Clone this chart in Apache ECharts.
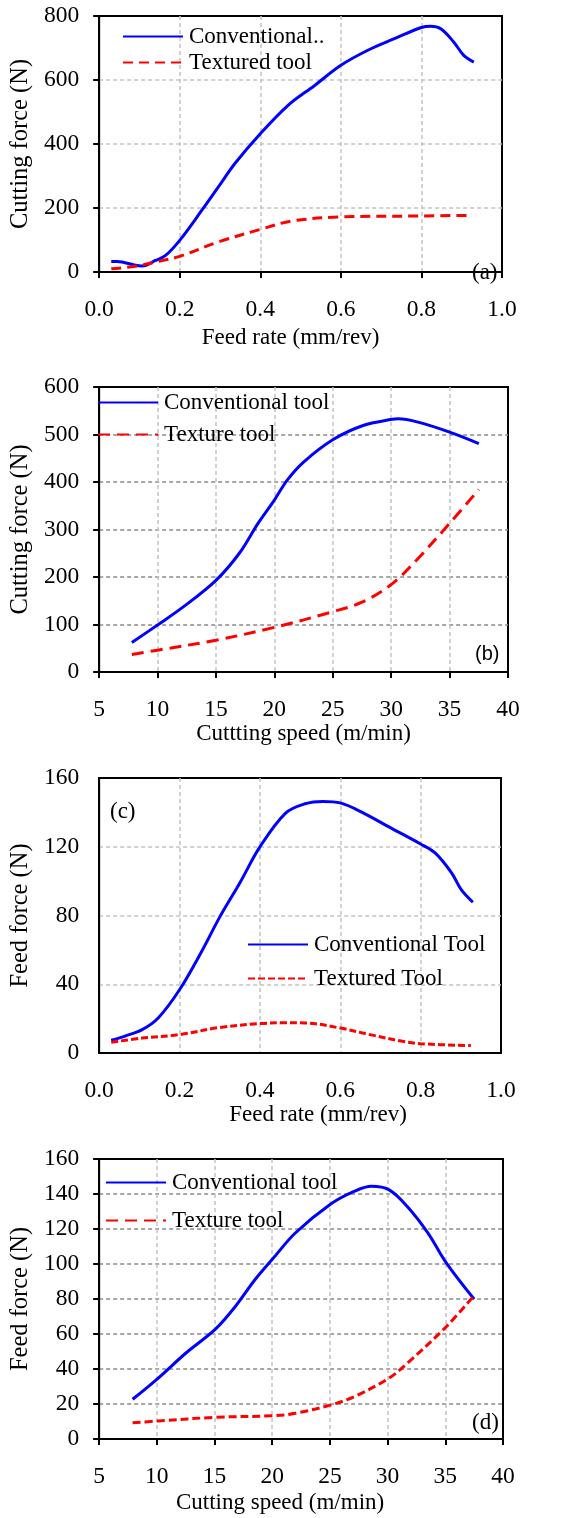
<!DOCTYPE html>
<html>
<head>
<meta charset="utf-8">
<title>Cutting and feed forces</title>
<script src="https://cdn.jsdelivr.net/npm/echarts@6/dist/echarts.min.js"></script>
<style>
  html, body { margin: 0; padding: 0; background: #fff; }
  #chart_show { width: 570px; height: 1518px; }
</style>
</head>
<body>
<div id="chart_show"></div>
<script>
// (a) cutting force vs feed rate
const feedConvA = [0.03, 0.045, 0.09, 0.107, 0.14, 0.165, 0.2, 0.255, 0.296, 0.337, 0.4, 0.469, 0.535, 0.6, 0.667, 0.733, 0.8, 0.823, 0.848, 0.88, 0.905, 0.93]
const forceConvA = [33, 33, 21, 19, 36, 52, 99, 193, 266, 339, 432, 521, 583, 646, 693, 729, 764, 768, 760, 719, 677, 656]
const feedTexA = [0.03, 0.09, 0.14, 0.2, 0.296, 0.4, 0.477, 0.6, 0.8, 0.92]
const forceTexA = [10, 18, 31, 49, 94, 133, 159, 172, 175, 177]

// (b) cutting force vs cutting speed
const speedConvB = [7.8, 10, 12.2, 15, 17, 18.6, 20, 21.1, 22.5, 25, 27.6, 30.1, 30.6, 32.3, 35, 37.5]
const forceConvB = [62, 99, 137, 193, 250, 313, 362, 404, 442, 489, 519, 532, 533, 526, 505, 481]
const speedTexB = [7.8, 10, 15, 20, 25, 27.6, 30.1, 32.3, 35, 37.5]
const forceTexB = [37, 46, 67, 94, 127, 148, 186, 239, 313, 384]

// (c) feed force vs feed rate
const feedConvC = [0.03, 0.066, 0.107, 0.147, 0.2, 0.253, 0.301, 0.35, 0.4, 0.464, 0.512, 0.557, 0.6, 0.658, 0.715, 0.8, 0.836, 0.877, 0.901, 0.93]
const forceConvC = [7.4, 10, 13.6, 20.4, 36.8, 58.2, 79.5, 98.9, 119.9, 139.6, 145, 146.4, 145.5, 139.6, 132.3, 121.6, 116.4, 104.8, 95, 87.7]
const feedTexC = [0.03, 0.107, 0.2, 0.301, 0.4, 0.464, 0.512, 0.6, 0.674, 0.755, 0.8, 0.925]
const forceTexC = [6.2, 8.7, 10.7, 14.9, 17.1, 17.6, 17.5, 14.5, 10.7, 6.8, 5.4, 4.3]

// (d) feed force vs cutting speed
const speedConvD = [7.9, 10.1, 12.5, 15.1, 16.8, 18.5, 20.1, 22, 25.1, 27.1, 28.6, 30.1, 31.7, 33.5, 35.1, 37.5]
const forceConvD = [22.7, 34.7, 49, 62.9, 75.7, 91, 103.4, 117.7, 134.4, 141.5, 144.4, 142.5, 132.9, 117.7, 100.5, 79.9]
const speedTexD = [7.9, 10.1, 15.1, 20.1, 22, 25.1, 27.1, 30.1, 31.7, 35.1, 37.5]
const forceTexD = [9.3, 10.3, 12.4, 13.3, 14.7, 19.5, 24.2, 34.7, 43.3, 64.3, 82]

// legend names / labels
const legendA = ['Conventional..', 'Textured tool']
const legendB = ['Conventional tool', 'Texture tool']
const legendC = ['Conventional Tool', 'Textured Tool']
const legendD = ['Conventional tool', 'Texture tool']
const panelTags = ['(a)', '(b)', '(c)', '(d)']

const serif = 'Liberation Serif, Times New Roman, serif'
const lightGrid = '#c3c3c3'
const darkGrid = '#8a8a8a'

function zip (xs, ys) {
  return xs.map((x, i) => [x, ys[i]])
}

// x axis for one panel
function makeX (idx, min, max, step, title, gap, pad, ticks, fixed) {
  return {
    type: 'value',
    gridIndex: idx,
    min: min,
    max: max,
    interval: step,
    name: title,
    nameLocation: 'middle',
    nameGap: gap,
    nameTextStyle: { fontFamily: serif, fontSize: 23, color: '#000', padding: pad },
    axisLine: { show: true, onZero: false, lineStyle: { color: '#000', width: 2 } },
    axisTick: { show: ticks, inside: false, length: 6, lineStyle: { color: '#000', width: 2 } },
    axisLabel: {
      fontFamily: serif,
      fontSize: 23.5,
      color: '#000',
      margin: 26,
      formatter: v => fixed ? v.toFixed(1) : String(v)
    },
    splitLine: { show: true, showMinLine: false, showMaxLine: false, lineStyle: { color: lightGrid, width: 1.5, type: [4, 3] } }
  }
}

// y axis for one panel
function makeY (idx, max, step, title, gap, ticks, gridColor) {
  return {
    type: 'value',
    gridIndex: idx,
    min: 0,
    max: max,
    interval: step,
    name: title,
    nameLocation: 'middle',
    nameGap: gap,
    nameTextStyle: { fontFamily: serif, fontSize: 24.5, color: '#000' },
    axisLine: { show: true, onZero: false, lineStyle: { color: '#000', width: 2 } },
    axisTick: { show: ticks, inside: false, length: 6, lineStyle: { color: '#000', width: 2 } },
    axisLabel: { fontFamily: serif, fontSize: 23.5, color: '#000', margin: 20 },
    splitLine: { show: true, showMinLine: false, showMaxLine: false, lineStyle: { color: gridColor, width: 1.5, type: [4, 3] } }
  }
}

function makeLine (idx, name, data, dashed, dash) {
  return {
    name: name,
    type: 'line',
    xAxisIndex: idx,
    yAxisIndex: idx,
    data: data,
    smooth: 0.35,
    symbol: 'none',
    lineStyle: {
      color: dashed ? '#ff0000' : '#0000ff',
      width: 3,
      type: dashed ? dash : 'solid'
    },
    itemStyle: { color: dashed ? '#ff0000' : '#0000ff' }
  }
}

function makeLegend (names, left, top, gap) {
  return {
    data: names,
    orient: 'vertical',
    left: left,
    top: top,
    itemGap: gap,
    itemWidth: 60,
    itemHeight: 14,
    padding: 0,
    selectedMode: false,
    // only the line in the key, no marker dot
    itemStyle: { color: 'rgba(0,0,0,0)', borderWidth: 0, opacity: 0 },
    textStyle: { fontFamily: serif, fontSize: 23, color: '#000', padding: [0, 0, 0, 1] }
  }
}

function makeTag (text, left, top, font, size) {
  return {
    text: text,
    left: left,
    top: top,
    padding: 0,
    textStyle: { fontFamily: font, fontSize: size, fontWeight: 'normal', color: '#000' }
  }
}

const myChart = echarts.init(document.getElementById('chart_show'), null, { renderer: 'canvas' })

const gridBox = (left, top, width, height) => ({
  left: left,
  top: top,
  width: width,
  height: height,
  show: true,
  borderColor: '#000',
  borderWidth: 2,
  backgroundColor: 'transparent'
})

const option = {
  backgroundColor: '#fff',
  animation: false,
  title: [
    makeTag(panelTags[0], 472, 261, serif, 23),
    makeTag(panelTags[1], 475, 644, 'Liberation Sans, Arial, sans-serif', 20),
    makeTag(panelTags[2], 110, 800, serif, 23),
    makeTag(panelTags[3], 472, 1411, serif, 23)
  ],
  legend: [
    makeLegend(legendA, 122, 25, 3),
    makeLegend(legendB, 97, 391, 9),
    makeLegend(legendC, 247, 933, 11),
    makeLegend(legendD, 105, 1171, 15)
  ],
  grid: [
    gridBox(97, 16, 405, 256),
    gridBox(91, 387, 417, 285),
    gridBox(89, 778, 412, 275),
    gridBox(97, 1159, 406, 280)
  ],
  xAxis: [
    makeX(0, 0, 1, 0.2, 'Feed rate (mm/rev)', 54, [0, 20, 0, 0], true, true),
    makeX(1, 5, 40, 5, 'Cuttting speed (m/min)', 48, 0, true, false),
    makeX(2, 0, 1, 0.2, 'Feed rate (mm/rev)', 43, [0, 0, 0, 36], false, true),
    makeX(3, 5, 40, 5, 'Cutting speed (m/min)', 52, [0, 42, 0, 0], true, false)
  ],
  yAxis: [
    makeY(0, 800, 200, 'Cutting force (N)', 62, true, lightGrid),
    makeY(1, 600, 100, 'Cutting force (N)', 56, true, darkGrid),
    makeY(2, 160, 40, 'Feed force (N)', 55, false, lightGrid),
    makeY(3, 160, 20, 'Feed force (N)', 62, true, darkGrid)
  ],
  series: [
    makeLine(0, legendA[0], zip(feedConvA, forceConvA), false),
    makeLine(0, legendA[1], zip(feedTexA, forceTexA), true, [10, 6]),
    makeLine(1, legendB[0], zip(speedConvB, forceConvB), false),
    makeLine(1, legendB[1], zip(speedTexB, forceTexB), true, [12, 7]),
    makeLine(2, legendC[0], zip(feedConvC, forceConvC), false),
    makeLine(2, legendC[1], zip(feedTexC, forceTexC), true, [7, 3]),
    makeLine(3, legendD[0], zip(speedConvD, forceConvD), false),
    makeLine(3, legendD[1], zip(speedTexD, forceTexD), true, [8, 4])
  ]
}

myChart.setOption(option)
</script>
</body>
</html>
